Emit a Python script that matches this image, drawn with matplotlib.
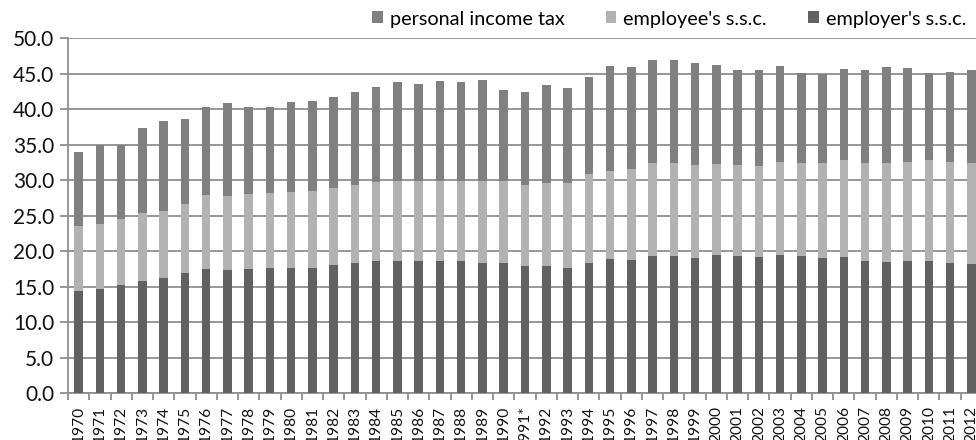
import matplotlib
matplotlib.use("Agg")
import matplotlib.pyplot as plt
import numpy as np

years = ["1970", "1971", "1972", "1973", "1974", "1975", "1976", "1977", "1978", "1979",
         "1980", "1981", "1982", "1983", "1984", "1985", "1986", "1987", "1988", "1989",
         "1990", "1991*", "1992", "1993", "1994", "1995", "1996", "1997", "1998", "1999",
         "2000", "2001", "2002", "2003", "2004", "2005", "2006", "2007", "2008", "2009",
         "2010", "2011", "2012"]

# cumulative levels
employer_top = [14.4, 14.6, 15.2, 15.8, 16.2, 16.9, 17.5, 17.3, 17.5, 17.6,
                17.7, 17.7, 18.0, 18.3, 18.6, 18.6, 18.6, 18.6, 18.6, 18.4,
                18.4, 17.9, 17.9, 17.7, 18.4, 18.9, 18.8, 19.3, 19.3, 19.1,
                19.4, 19.3, 19.2, 19.4, 19.3, 19.0, 19.2, 18.6, 18.5, 18.6,
                18.6, 18.4, 18.2]
employee_top = [23.5, 23.8, 24.5, 25.4, 25.6, 26.7, 27.9, 27.8, 28.0, 28.2,
                28.3, 28.5, 28.9, 29.3, 29.7, 29.9, 29.9, 29.9, 29.9, 29.9,
                29.9, 29.3, 29.6, 29.6, 30.9, 31.3, 31.6, 32.5, 32.5, 32.1,
                32.3, 32.1, 32.0, 32.6, 32.5, 32.5, 32.9, 32.4, 32.4, 32.6,
                32.8, 32.6, 32.5]
total = [34.0, 35.0, 35.0, 37.4, 38.4, 38.7, 40.4, 40.9, 40.4, 40.3,
         41.1, 41.2, 41.8, 42.5, 43.2, 43.8, 43.6, 44.0, 43.8, 44.1,
         42.7, 42.4, 43.4, 43.0, 44.5, 46.1, 46.0, 47.0, 47.0, 46.6,
         46.2, 45.5, 45.5, 46.1, 45.2, 45.0, 45.7, 45.6, 46.0, 45.9,
         45.2, 45.3, 45.5]

employer = np.array(employer_top)
employee = np.array(employee_top) - employer
income_tax = np.array(total) - np.array(employee_top)

c_tax = "#808080"
c_ee = "#b2b2b2"
c_er = "#616161"
grid_c = "#8f8f8f"

plt.rcParams["font.family"] = ["Lato", "DejaVu Sans"]

fig = plt.figure(figsize=(9.76, 4.4), dpi=100)
ax = fig.add_axes([68 / 976, 47 / 440, 914 / 976, 354.5 / 440])

x = np.arange(len(years))
w = 0.4
b1 = ax.bar(x, employer, w, color=c_er, label="employer's s.s.c.", zorder=3)
b2 = ax.bar(x, employee, w, bottom=employer, color=c_ee, label="employee's s.s.c.", zorder=3)
b3 = ax.bar(x, income_tax, w, bottom=np.array(employee_top), color=c_tax,
            label="personal income tax", zorder=3)

ax.set_xlim(-0.5, len(years) - 0.5)
ax.set_ylim(0, 50)
ax.set_yticks(np.arange(0, 50.1, 5))
ax.set_yticklabels([f"{v:.1f}" for v in np.arange(0, 50.1, 5)], fontsize=15, color="#111111")
ax.yaxis.grid(True, color=grid_c, linewidth=1.3, zorder=0)
ax.set_axisbelow(True)

ax.set_xticks(x)
ax.set_xticklabels(years, rotation=90, fontsize=11.2, color="#111111")
ax.set_xticks(np.arange(-0.5, len(years), 1), minor=True)
ax.tick_params(axis="x", which="major", length=0, pad=9)
ax.tick_params(axis="x", which="minor", length=5, color=grid_c, width=1.3)
ax.tick_params(axis="y", length=6, color=grid_c, width=1.3, pad=4)

for s in ["top", "right"]:
    ax.spines[s].set_visible(False)
ax.spines["left"].set_color(grid_c)
ax.spines["left"].set_linewidth(1.3)
ax.spines["bottom"].set_color(grid_c)
ax.spines["bottom"].set_linewidth(1.3)

leg = fig.legend(handles=[b3, b2, b1], loc="center right",
                 bbox_to_anchor=(966 / 976, 1 - 19 / 440),
                 ncol=3, frameon=False, fontsize=14.3, handlelength=0.55, handleheight=0.55,
                 handletextpad=0.35, columnspacing=2.05, borderaxespad=0, borderpad=0)

fig.savefig("out.png", dpi=100)
